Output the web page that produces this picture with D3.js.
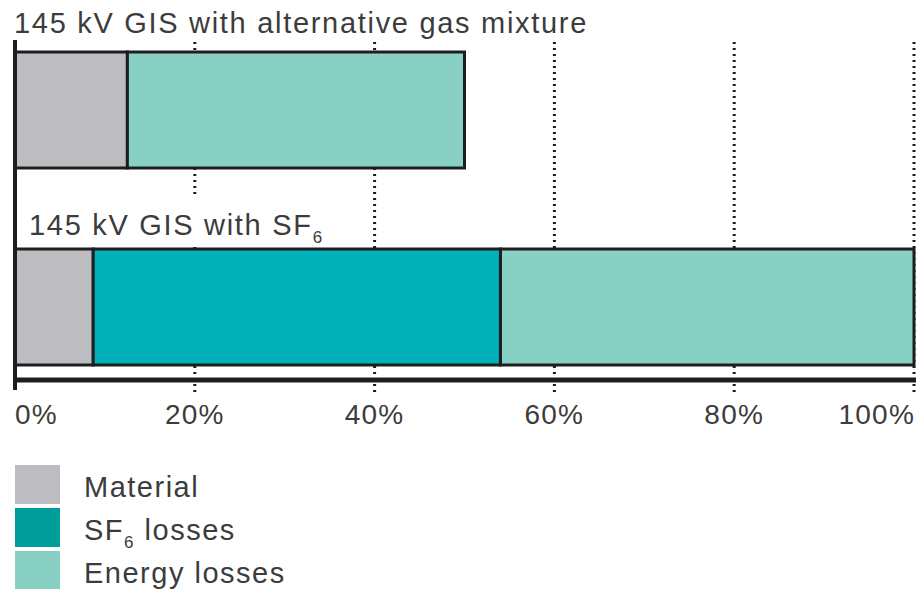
<!DOCTYPE html>
<html>
<head>
<meta charset="utf-8">
<script src="https://cdn.jsdelivr.net/npm/d3@7"></script>
<style>
  body { margin: 0; background: #fff; }
  text { font-family: "Liberation Sans", Arial, sans-serif; fill: #3c3c3c; }
</style>
</head>
<body>
<div id="chart"></div>
<script>
// data
const components = ["Material", "SF6 losses", "Energy losses"];
const alternativeGas = [12.5, 0, 37.5];
const withSF6 = [8.7, 45.3, 46.0];
const tickValues = [0, 20, 40, 60, 80, 100];
const barColors = ["#bdbdc1", "#00b1b9", "#88cfc4"];
const legendColors = ["#bdbdc1", "#009e9b", "#88cfc4"];

const width = 921, height = 589;

const svg = d3.select("#chart")
  .append("svg")
  .attr("width", width)
  .attr("height", height);

const x = d3.scaleLinear().domain([0, 100]).range([15, 914]);

const rows = [
  { name: "alt", values: alternativeGas, y0: 52, y1: 168 },
  { name: "sf6", values: withSF6, y0: 249, y1: 365 }
];

// dotted grid lines
svg.append("g")
  .selectAll("line")
  .data(tickValues.slice(1))
  .join("line")
  .attr("x1", d => x(d))
  .attr("x2", d => x(d))
  .attr("y1", 42)
  .attr("y2", 392)
  .attr("stroke", "#1a1a1a")
  .attr("stroke-width", 3)
  .attr("stroke-dasharray", "2,4");

// bars
rows.forEach(row => {
  let acc = 0;
  const segs = row.values.map((v, i) => {
    const s = { start: acc, end: acc + v, color: barColors[i] };
    acc += v;
    return s;
  }).filter(s => s.end > s.start);

  svg.append("g")
    .selectAll("rect")
    .data(segs)
    .join("rect")
    .attr("x", d => x(d.start))
    .attr("y", row.y0)
    .attr("width", d => x(d.end) - x(d.start))
    .attr("height", row.y1 - row.y0)
    .attr("fill", d => d.color)
    .attr("stroke", "#1e1e1e")
    .attr("stroke-width", 3);
});

// white box behind second label
svg.append("rect")
  .attr("x", 17)
  .attr("y", 197)
  .attr("width", 330)
  .attr("height", 50)
  .attr("fill", "#fff");

// axis lines
svg.append("line")
  .attr("x1", x(0)).attr("x2", x(0))
  .attr("y1", 40).attr("y2", 390)
  .attr("stroke", "#1e1e1e").attr("stroke-width", 4);

svg.append("line")
  .attr("x1", x(0)).attr("x2", x(100) + 2)
  .attr("y1", 380).attr("y2", 380)
  .attr("stroke", "#1e1e1e").attr("stroke-width", 5);

// tick labels
svg.append("g")
  .selectAll("text")
  .data(tickValues)
  .join("text")
  .attr("x", d => x(d) + (d === 100 ? 1 : 0))
  .attr("y", 424)
  .attr("text-anchor", d => d === 0 ? "start" : d === 100 ? "end" : "middle")
  .style("font-size", "28px")
  .style("letter-spacing", "1.2px")
  .text(d => d + "%");

// row labels
svg.append("text")
  .attr("x", 14)
  .attr("y", 33)
  .style("font-size", "29px")
  .style("letter-spacing", "1.7px")
  .text("145 kV GIS with alternative gas mixture");

const lbl = svg.append("text")
  .attr("x", 29)
  .attr("y", 235)
  .style("font-size", "29px")
  .style("letter-spacing", "1.7px");
lbl.append("tspan").text("145 kV GIS with SF");
lbl.append("tspan").attr("dy", 8).style("font-size", "17px").text("6");

// legend
const legend = svg.append("g");
components.forEach((c, i) => {
  const y = 465 + i * 43;
  legend.append("rect")
    .attr("x", 15)
    .attr("y", y)
    .attr("width", 45)
    .attr("height", 39)
    .attr("fill", legendColors[i]);
  const t = legend.append("text")
    .attr("x", 84)
    .attr("y", y + 32)
    .style("font-size", "29px")
    .style("letter-spacing", "1.5px");
  if (c === "SF6 losses") {
    t.append("tspan").text("SF");
    t.append("tspan").attr("dy", 8).style("font-size", "17px").text("6");
    t.append("tspan").attr("dy", -8).text(" losses");
  } else {
    t.text(c);
  }
});
</script>
</body>
</html>
